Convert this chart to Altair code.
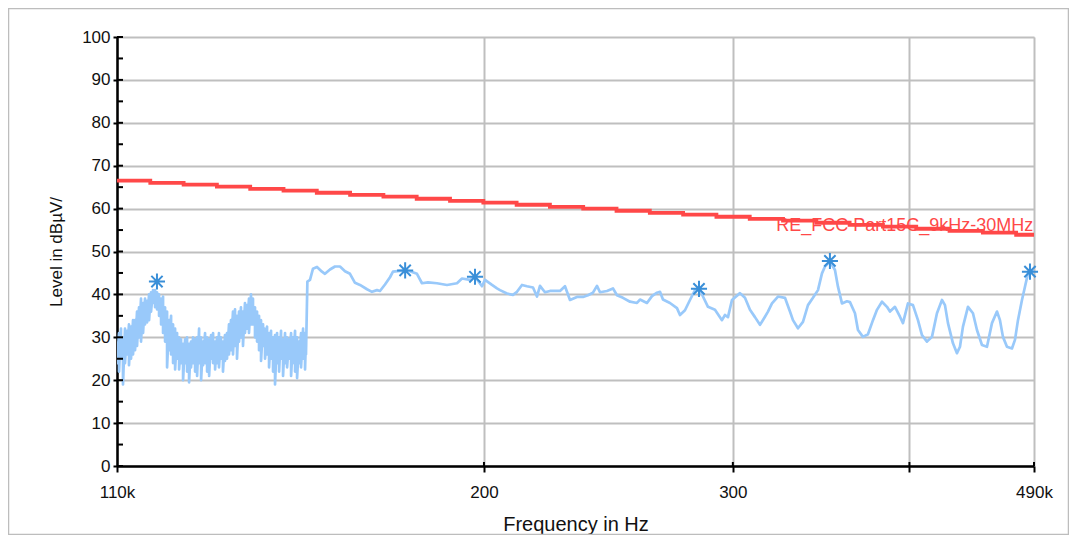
import altair as alt
import pandas as pd

# ---------------- data ----------------
# Low band sweep (dense, noisy part) 110 kHz - 150 kHz:
# at each frequency the trace swings between a high and a low reading
sweep_low_khz = [
    110.00, 110.36, 110.72, 111.08, 111.44,
    111.81, 112.17, 112.54, 112.91, 113.28,
    113.65, 114.02, 114.39, 114.77, 115.14,
    115.52, 115.90, 116.27, 116.65, 117.04,
    117.42, 117.80, 118.19, 118.57, 118.96,
    119.35, 119.74, 120.13, 120.52, 120.92,
    121.31, 121.71, 122.10, 122.50, 122.90,
    123.30, 123.70, 124.10, 124.51, 124.92,
    125.33, 125.74, 126.15, 126.56, 126.97,
    127.39, 127.81, 128.22, 128.64, 129.06,
    129.46, 129.88, 130.30, 130.73, 131.16,
    131.59, 132.02, 132.45, 132.88, 133.32,
    133.75, 134.19, 134.62, 135.06, 135.50,
    135.95, 136.39, 136.84, 137.28, 137.73,
    138.19, 138.64, 139.09, 139.55, 140.00,
    140.46, 140.92, 141.38, 141.84, 142.30,
    142.77, 143.24, 143.70, 144.17, 144.64,
    145.12, 145.59, 146.07, 146.54, 147.02,
    147.50, 147.98, 148.46, 148.95, 149.43,
    149.66,
]
sweep_low_hi = [
    29, 31, 32, 30, 32,
    31.5, 33, 32.5, 34, 34,
    36, 37, 39, 38, 39,
    38.5, 40, 40.5, 41, 41,
    40.5, 40, 39, 39.5, 37,
    36, 34, 35, 33, 32,
    31, 30, 29.5, 28.5, 29.5,
    30, 28.5, 29, 30, 29.5,
    30, 32, 30, 29, 31,
    30, 29.5, 30.5, 31, 29,
    30, 31, 30, 29, 30.5,
    31, 33, 34, 36, 36.5,
    35, 36, 37, 36, 38,
    37.5, 39, 40, 39, 37,
    36, 35, 34, 33, 32,
    32.5, 31, 31.5, 30, 30.5,
    31, 30, 31.5, 29.5, 31,
    30, 29.5, 31, 30, 31.5,
    30, 29, 31, 32, 31,
    30,
]
sweep_low_lo = [
    24, 22, 25, 19, 24,
    26, 23.5, 25, 26, 27,
    28, 30, 29, 31, 33,
    33.5, 34, 36, 38, 37,
    36.5, 35, 33, 31, 29,
    23, 27, 26, 24, 22.5,
    25, 22.5, 24, 20, 24,
    22, 19.5, 23, 24, 22,
    21, 24, 20, 23.5, 24,
    22, 21, 25, 24, 22.5,
    24, 23, 25, 22, 24.5,
    25, 26, 27, 26, 28,
    25, 29, 30, 28, 31,
    32, 31, 33, 33, 30,
    29, 27, 24.5, 28, 25,
    26, 23, 25, 22, 19,
    24, 22, 25, 21, 24,
    23, 25, 21, 24, 22,
    20.5, 24, 23, 25, 22.5,
    26,
]
# High band sweep 150 kHz - 490 kHz
sweep_high_khz = [
    150.00, 150.64, 151.38, 152.37, 153.61, 154.36, 155.63, 156.90, 158.18, 159.48,
    160.78, 162.10, 163.42, 165.30, 166.65, 168.01, 168.83, 170.22, 171.61, 172.45,
    174.43, 175.85, 177.29, 179.32, 180.79, 182.57, 185.26, 188.31, 191.40, 192.97,
    195.50, 197.09, 199.36, 200.33, 202.63, 204.29, 205.29, 207.64, 209.68, 211.05,
    212.78, 214.52, 216.63, 218.04, 219.11, 220.90, 222.71, 226.37, 228.22, 230.09,
    232.72, 235.01, 236.93, 238.87, 240.43, 241.61, 244.38, 246.78, 248.39, 250.83,
    253.71, 256.62, 257.88, 260.83, 262.97, 265.12, 266.42, 267.72, 270.79, 273.90,
    275.24, 277.49, 279.76, 282.05, 283.89, 285.75, 288.09, 291.39, 294.73, 296.18,
    297.63, 299.57, 303.50, 305.98, 308.49, 311.01, 313.56, 316.12, 317.67, 319.75,
    322.89, 326.59, 329.26, 330.87, 333.58, 336.31, 339.06, 341.83, 344.63, 346.88,
    348.58, 351.43, 354.30, 356.04, 358.37, 361.30, 363.07, 366.04, 367.83, 370.84,
    373.87, 376.93, 379.40, 382.50, 385.63, 387.52, 390.68, 393.88, 395.81, 399.05,
    402.31, 405.60, 408.25, 411.59, 414.96, 418.35, 421.78, 423.84, 425.92, 429.40,
    432.21, 434.33, 436.45, 440.02, 443.62, 446.52, 450.18, 453.86, 457.57, 461.31,
    463.57, 465.84, 468.89, 472.72, 475.04, 477.37, 480.49, 482.84, 485.21, 488.38,
    490.00,
]
sweep_high_dbuv = [
    43.0, 43.4, 46.0, 46.4, 45.3, 44.8, 45.8, 46.5, 46.5, 45.4,
    44.8, 42.7, 42.2, 41.2, 40.6, 41.0, 40.8, 42.3, 44.0, 45.3,
    45.5, 45.6, 45.4, 44.8, 42.6, 42.8, 42.6, 42.2, 42.6, 43.7,
    43.4, 44.1, 41.9, 43.4, 42.2, 41.4, 41.0, 40.2, 39.9, 40.6,
    42.2, 41.9, 41.6, 39.5, 42.0, 40.5, 40.8, 40.8, 41.9, 38.7,
    39.4, 39.4, 39.8, 40.4, 42.0, 40.5, 40.8, 41.4, 39.8, 39.2,
    38.3, 38.0, 38.8, 38.0, 39.6, 40.4, 40.6, 38.8, 38.0, 36.8,
    35.2, 36.3, 38.7, 41.0, 41.5, 39.5, 37.1, 36.4, 34.0, 35.2,
    34.7, 38.7, 40.3, 39.2, 36.4, 34.7, 32.9, 34.8, 36.0, 37.9,
    39.5, 39.2, 36.0, 34.0, 32.1, 33.6, 37.5, 39.2, 41.0, 44.9,
    46.5, 47.7, 45.7, 41.8, 37.9, 38.4, 38.2, 35.6, 31.7, 30.1,
    30.7, 34.0, 36.4, 38.3, 37.1, 36.0, 37.1, 34.8, 33.3, 37.9,
    37.5, 34.0, 30.5, 29.0, 30.1, 35.6, 38.7, 37.5, 33.3, 28.6,
    26.3, 27.8, 32.5, 37.1, 35.6, 31.7, 28.2, 27.8, 33.3, 36.0,
    34.0, 30.1, 27.8, 27.4, 29.4, 34.0, 38.7, 41.8, 44.9, 45.5,
    45.5,
]

# Peak markers (asterisks)
peak_khz = [117.4, 175.9, 197.1, 283.9, 351.4, 486.8]
peak_dbuv = [43.0, 45.6, 44.1, 41.3, 47.8, 45.3]

# Limit line (stepped)
limit_khz = [110.0, 116.13, 122.61, 129.44, 136.66, 144.28, 152.32, 160.81, 169.78,
             179.24, 189.24, 199.79, 210.93, 222.69, 235.10, 248.21, 262.05, 276.66,
             292.08, 308.37, 325.56, 343.71, 362.87, 383.10, 404.46, 427.01, 450.82,
             475.95, 490.0]
limit_dbuv = [66.5, 66.0, 65.6, 65.1, 64.6, 64.2, 63.7, 63.2, 62.8,
              62.3, 61.8, 61.4, 60.9, 60.4, 60.0, 59.5, 59.0, 58.6,
              58.1, 57.6, 57.2, 56.7, 56.2, 55.8, 55.3, 54.8, 54.4,
              53.9, 53.9]
limit_label = "RE_FCC Part15C_9kHz-30MHz"
label_khz = 489.5
label_dbuv = 54.8

x_tick_values = [110, 200, 300, 400, 490]
x_tick_inner = [200, 300, 400, 490]
y_tick_values = list(range(0, 101, 5))

# ---------------- styling ----------------
FONT = "Liberation Sans"
TRACE = "#99c9fa"
PEAK = "#3a8fd8"
LIMIT = "#ff4848"
GRID = "#bfbfbf"
PLOT_W = 917
PLOT_H = 429

trace_khz, trace_dbuv = [], []
for f, hi, lo in zip(sweep_low_khz, sweep_low_hi, sweep_low_lo):
    trace_khz += [f, f]
    trace_dbuv += [hi, lo]
trace_khz += sweep_high_khz
trace_dbuv += sweep_high_dbuv

df_trace = pd.DataFrame({"freq": trace_khz, "level": trace_dbuv,
                         "idx": list(range(len(trace_khz)))})
df_peak = pd.DataFrame({"freq": peak_khz, "level": peak_dbuv})
df_limit = pd.DataFrame({"freq": limit_khz, "level": limit_dbuv})
df_label = pd.DataFrame({"freq": [label_khz], "level": [label_dbuv], "text": [limit_label]})
df_xt = pd.DataFrame({"freq": x_tick_inner})
df_yt = pd.DataFrame({"level": y_tick_values})
df_one = pd.DataFrame({"a": [0]})

xscale = alt.Scale(type="log", domain=[110, 490], nice=False)
yscale = alt.Scale(domain=[0, 100], nice=False, zero=False)

x_axis = alt.Axis(
    values=x_tick_values,
    labelExpr="datum.value == 110 ? '110k' : datum.value == 490 ? '490k' : datum.value == 400 ? '' : datum.label",
    format="d",
    grid=True, gridColor=GRID, gridWidth=2,
    domainColor="black", domainWidth=2.5,
    tickColor="black", tickWidth=2, tickSize=6,
    labelFontSize=17, labelColor="#111111", labelFont=FONT,
    labelPadding=12, labelFlush=False, labelOverlap=False,
    title="Frequency in Hz", titleFontSize=20, titleFont=FONT,
    titleFontWeight="normal", titleColor="#111111", titlePadding=14,
)
y_axis = alt.Axis(
    values=y_tick_values,
    labelExpr="datum.value % 10 == 0 ? datum.label : ''",
    grid=True, gridColor=GRID, gridWidth=2,
    domainColor="black", domainWidth=2.5,
    tickColor="black", tickWidth=2, tickSize=4,
    labelFontSize=17, labelColor="#111111", labelFont=FONT,
    labelPadding=3, labelFlush=False, labelOverlap=False,
    title="Level in dBµV/", titleFontSize=17, titleFont=FONT,
    titleFontWeight="normal", titleColor="#111111", titlePadding=16,
)

trace = alt.Chart(df_trace).mark_line(color=TRACE, strokeWidth=2.7, clip=True,
                                      strokeJoin="round").encode(
    x=alt.X("freq:Q", scale=xscale, axis=x_axis),
    y=alt.Y("level:Q", scale=yscale, axis=y_axis),
    order="idx:Q",
)

limit = alt.Chart(df_limit).mark_line(color=LIMIT, strokeWidth=3.8,
                                      interpolate="step-after").encode(
    x=alt.X("freq:Q", scale=xscale),
    y=alt.Y("level:Q", scale=yscale),
)

label = alt.Chart(df_label).mark_text(color=LIMIT, font=FONT, fontSize=18,
                                      align="right", baseline="alphabetic").encode(
    x=alt.X("freq:Q", scale=xscale),
    y=alt.Y("level:Q", scale=yscale),
    text="text:N",
)

star_path = "M0,-1L0,1M-1,0L1,0M-0.7,-0.7L0.7,0.7M-0.7,0.7L0.7,-0.7"
peaks = alt.Chart(df_peak).mark_point(shape=star_path, size=260, color=PEAK,
                                      strokeWidth=2, filled=False, opacity=1).encode(
    x=alt.X("freq:Q", scale=xscale),
    y=alt.Y("level:Q", scale=yscale),
)

ytick_in = alt.Chart(df_yt).mark_rule(color="black", strokeWidth=2).encode(
    y=alt.Y("level:Q", scale=yscale),
    x=alt.value(0), x2=alt.value(6),
)
xtick_in = alt.Chart(df_xt).mark_rule(color="black", strokeWidth=2).encode(
    x=alt.X("freq:Q", scale=xscale),
    y=alt.value(PLOT_H - 4), y2=alt.value(PLOT_H),
)

border = alt.Chart(df_one).mark_rect(fill=None, stroke="#bdbdbd", strokeWidth=1.5,
                                     clip=False).encode(
    x=alt.value(-108.5), x2=alt.value(951.5),
    y=alt.value(-28.5), y2=alt.value(497.5),
)

chart = alt.layer(trace, limit, label, peaks, ytick_in, xtick_in, border).properties(
    width=PLOT_W, height=PLOT_H,
    autosize=alt.AutoSizeParams(type="none"),
    padding={"left": 109, "top": 29, "right": 35, "bottom": 69},
    background="white",
).configure_view(stroke=None).configure(font=FONT)

chart.save("out.html", embed_options={"renderer": "svg", "actions": False})
